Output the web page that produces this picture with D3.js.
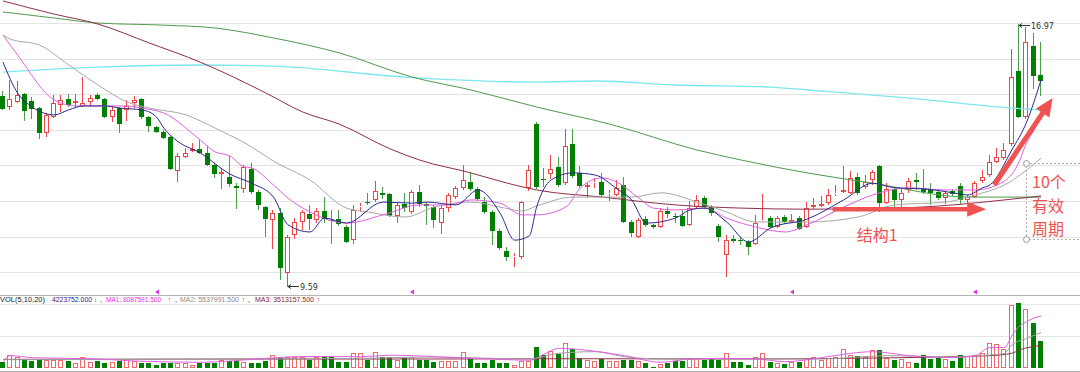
<!DOCTYPE html>
<html>
<head>
<meta charset="utf-8">
<script src="https://cdn.jsdelivr.net/npm/d3@7"></script>
<style>
  body { margin: 0; background: #fff; }
  svg { display: block; }
</style>
</head>
<body>
<svg id="chart" width="1080" height="372"></svg>
<script>
// daily OHLC (index = trading day)
const open = [14.95,14.64,14.78,15.01,14.81,14.61,13.91,14.36,14.70,14.87,14.75,14.67,14.78,14.98,14.87,14.36,14.61,14.56,14.75,14.87,
  14.36,14.08,13.94,13.80,12.84,13.24,13.40,13.46,13.35,13.01,12.76,12.67,12.42,12.34,12.90,12.25,11.83,11.47,11.66,9.98,
  11.05,11.41,11.63,11.47,11.72,11.48,11.49,11.27,10.90,11.83,11.97,12.03,12.23,12.20,11.58,11.92,11.69,12.25,11.92,11.83,
  11.38,11.80,12.11,12.37,12.53,12.34,11.97,11.69,11.16,10.60,10.42,10.43,12.37,14.16,12.63,12.76,12.96,12.50,13.60,12.79,
  12.40,12.50,12.53,12.20,12.17,12.45,11.41,10.99,11.49,11.33,11.27,11.72,11.59,11.58,11.33,11.83,12.08,11.83,11.30,10.48,
  10.93,10.91,10.85,10.79,11.44,11.52,11.27,11.55,11.41,11.52,11.27,11.83,11.86,11.94,12.20,12.25,12.23,12.67,12.40,12.59,
  12.98,11.94,12.34,12.03,12.31,12.59,12.37,12.31,12.25,12.08,12.28,12.42,12.03,12.11,12.56,12.73,13.10,13.21,13.60,15.65,
  14.36,16.35,15.54];
const high = [15.09,15.40,15.37,15.03,14.92,14.64,14.47,14.98,14.98,15.01,15.01,15.48,14.98,15.03,14.89,14.67,14.64,14.84,14.95,14.89,
  14.39,14.11,13.99,13.83,13.35,13.49,13.63,13.71,13.55,13.07,12.93,13.27,12.50,13.01,13.07,12.31,11.86,11.75,11.80,11.05,
  11.52,11.75,11.89,11.80,12.11,11.75,11.75,11.33,11.89,11.94,12.23,12.56,12.40,12.23,11.97,12.23,12.31,12.45,11.97,11.89,
  11.86,12.23,12.42,13.01,12.81,12.40,12.11,11.75,11.21,10.71,10.54,12.00,13.01,14.22,12.93,13.29,13.24,14.02,14.02,12.98,
  12.53,12.65,12.79,12.31,12.59,12.67,11.47,11.52,11.58,11.35,11.80,11.83,11.66,11.75,12.00,12.17,12.14,11.89,11.35,11.05,
  11.05,10.99,10.90,11.61,12.20,11.58,11.58,11.61,11.63,11.58,11.97,12.08,12.14,12.34,12.45,12.98,12.84,12.79,12.73,12.87,
  13.01,12.50,12.40,12.34,12.65,12.79,12.90,12.50,12.31,12.28,12.34,12.50,12.17,12.56,12.87,13.29,13.49,13.63,16.27,16.97,
  16.89,16.72,16.47];
const low = [14.56,14.56,14.75,14.25,14.30,13.74,13.80,14.33,14.50,14.64,14.64,14.64,14.64,14.84,14.33,14.22,13.91,14.25,14.61,14.30,
  13.94,13.91,13.74,12.87,12.53,13.21,13.37,13.32,12.98,12.65,12.34,12.40,11.77,12.23,12.20,11.75,10.99,10.65,9.78,9.59,
  10.93,11.19,11.19,11.38,11.38,10.79,11.30,10.82,10.79,11.69,11.89,11.97,12.06,11.55,11.38,11.69,11.63,11.83,11.33,11.24,
  11.07,11.69,12.06,12.31,12.28,12.00,11.63,10.76,10.62,10.31,10.15,10.37,12.28,12.34,12.40,12.62,12.40,12.45,12.65,12.37,
  12.08,12.37,12.11,12.00,12.14,11.38,10.99,10.96,11.27,11.21,11.24,11.52,11.38,11.27,11.30,11.77,11.77,11.58,10.85,9.87,
  10.82,10.76,10.48,10.76,11.41,11.24,11.24,11.35,11.38,11.19,11.24,11.77,11.83,11.89,12.14,12.23,12.20,12.17,12.34,12.45,
  11.69,11.92,11.83,11.83,12.23,12.31,12.20,11.89,12.03,11.92,12.14,11.92,11.94,12.08,12.50,12.67,13.07,13.15,13.55,14.33,
  14.30,15.15,14.95];
const close = [14.58,14.87,14.98,14.53,14.58,13.91,14.42,14.75,14.84,14.70,14.81,14.75,14.89,14.87,14.36,14.56,14.16,14.67,14.84,14.36,
  14.11,13.94,13.77,12.90,13.27,13.35,13.46,13.35,13.01,12.76,12.81,12.48,12.37,12.96,12.25,11.89,11.49,11.66,10.12,10.99,
  11.41,11.69,11.49,11.72,11.49,11.46,11.35,10.85,11.75,11.86,11.94,12.28,12.17,11.58,11.89,11.80,12.25,11.92,11.86,11.47,
  11.80,12.17,12.37,12.59,12.34,12.06,11.69,11.16,10.68,10.43,10.45,11.97,12.87,12.40,12.61,12.90,12.45,13.55,12.70,12.42,
  12.45,12.53,12.17,12.23,12.37,11.41,11.10,11.47,11.33,11.27,11.72,11.63,11.57,11.30,11.80,12.03,11.83,11.66,10.99,10.90,
  10.88,10.89,10.71,11.38,11.47,11.27,11.52,11.41,11.47,11.21,11.80,11.89,11.92,12.17,12.23,12.31,12.65,12.23,12.53,12.81,
  11.94,12.34,12.03,12.23,12.56,12.53,12.25,12.23,12.08,12.23,12.20,12.03,12.11,12.50,12.67,13.10,13.24,13.43,15.48,14.36,
  16.47,15.51,15.37];
// volume, millions of shares
const volume = [0.94,2.03,1.77,1.46,1.09,1.35,1.25,1.25,1.25,1.15,0.73,1.77,0.94,1.15,0.73,0.94,1.15,1.35,1.09,0.83,
  0.73,0.52,0.83,0.73,0.83,0.73,0.52,0.73,0.73,0.83,1.25,1.15,1.04,0.94,0.83,0.83,1.15,1.98,1.77,1.77,
  1.67,1.67,1.25,1.67,1.77,1.67,0.94,0.94,2.40,2.40,1.25,2.55,1.77,1.77,1.25,1.61,1.77,1.25,1.25,0.94,
  1.04,1.04,1.04,2.50,1.35,0.73,0.73,1.25,0.83,0.73,0.42,1.04,1.04,3.33,2.08,2.60,2.19,3.96,2.92,1.56,
  1.25,1.04,1.35,1.04,1.04,1.25,1.25,1.04,0.73,0.21,0.63,0.73,1.04,1.15,1.35,1.56,1.25,1.46,1.25,2.29,
  0.94,0.94,0.42,1.77,2.40,0.94,0.73,0.63,0.94,0.94,1.56,1.77,1.25,1.61,1.77,2.92,2.08,1.88,1.77,2.76,
  2.81,1.56,1.25,1.35,0.94,0.73,1.98,1.46,1.61,1.46,1.09,1.98,1.88,1.98,2.40,3.96,3.70,2.92,9.80,10.10,
  9.20,7.10,4.22];

// moving averages, [day, price]
const ma5 = [[0,15.90],[2,15.03],[4,14.64],[7,14.42],[9,14.56],[11,14.67],[14,14.67],[16,14.61],[19,14.56],[21,14.36],
  [22,14.05],[24,13.66],[27,13.35],[31,12.76],[34,12.50],[37,12.11],[39,11.33],[42,11.13],[44,11.52],[47,11.38],
  [52,11.97],[56,11.94],[58,11.97],[62,11.89],[65,12.31],[68,11.66],[70,10.90],[72,11.02],[73,11.83],[75,12.59],
  [78,12.79],[81,12.73],[84,12.34],[86,12.03],[88,11.38],[92,11.52],[94,11.75],[96,11.80],[99,11.41],[102,10.85],
  [105,11.24],[110,11.49],[115,12.03],[119,12.50],[122,12.37],[126,12.34],[130,12.23],[132,12.17],[134,12.37],
  [135,12.45],[138,13.43],[140,14.20],[142,15.40]];
const ma10 = [[0,16.66],[2,16.10],[7,14.84],[10,14.67],[13,14.67],[17,14.67],[19,14.61],[22,14.47],[27,13.71],[29,13.38],
  [31,13.27],[33,12.96],[34,12.93],[37,12.45],[39,12.08],[42,11.69],[47,11.38],[52,11.61],[57,11.89],[61,11.89],
  [64,12.03],[68,11.94],[71,11.61],[73,11.61],[77,11.83],[79,12.37],[82,12.65],[84,12.53],[87,12.08],[89,11.80],
  [92,11.75],[96,11.80],[99,11.52],[103,11.27],[107,11.13],[110,11.33],[115,11.83],[119,12.17],[124,12.37],
  [129,12.31],[133,12.31],[137,12.56],[139,13.10],[140,13.62],[141,13.98],[142,14.32]];
const ma20 = [[0,16.66],[1,16.55],[5,16.38],[9,15.82],[13,15.26],[17,14.78],[20,14.61],[25,14.42],[29,14.05],[34,13.52],
  [37,13.12],[42,12.59],[47,11.80],[50,11.69],[55,11.55],[59,11.83],[64,11.97],[68,11.83],[71,11.72],[73,11.86],
  [78,12.11],[83,12.11],[86,12.11],[90,12.23],[95,11.97],[99,11.69],[103,11.41],[110,11.41],[117,11.55],[122,11.89],
  [129,11.97],[133,12.17],[137,12.45],[142,13.20]];
const ma60 = [[0,17.62],[7,17.25],[13,16.97],[20,16.44],[27,15.90],[36,15.03],[41,14.50],[46,14.16],[53,13.46],[57,13.15],
  [64,12.79],[69,12.50],[73,12.31],[82,12.11],[92,11.89],[101,11.80],[110,11.77],[122,11.80],[130,11.89],[137,12.03],[142,12.14]];
const ma120 = [[0,17.31],[7,17.14],[13,17.00],[22,16.94],[29,16.86],[37,16.58],[46,16.16],[56,15.48],[64,15.12],[73,14.64],
  [83,14.16],[95,13.43],[101,13.15],[110,12.79],[119,12.50],[132,12.11],[142,12.11]];
const ma250 = [[0,15.62],[13,15.76],[27,15.82],[37,15.79],[55,15.48],[73,15.34],[81,15.37],[92,15.26],[105,15.20],[110,15.12],
  [124,14.89],[138,14.61],[142,14.56]];

// volume moving averages (millions)
const vma5 = [[0,0.98],[1,1.93],[4,1.62],[13,1.41],[18,1.09],[27,0.89],[36,1.50],[41,1.80],[49,1.77],[53,2.00],[62,1.62],
  [67,1.41],[72,1.20],[74,2.14],[76,3.07],[78,2.97],[85,1.93],[90,0.89],[94,1.41],[98,1.50],[103,1.41],[107,0.99],
  [112,1.62],[116,2.30],[119,2.55],[124,1.93],[130,1.62],[133,1.93],[135,3.18],[137,3.20],[138,5.00],[139,6.50],
  [140,7.20],[141,7.80],[142,8.09]];
const vma10 = [[0,1.30],[20,1.35],[49,1.50],[58,1.72],[72,1.41],[76,2.30],[81,2.55],[85,1.77],[90,1.41],[98,1.41],
  [112,1.41],[121,1.93],[130,1.72],[135,2.03],[137,2.30],[138,3.60],[140,4.60],[142,5.54]];
const vma20 = [[0,1.35],[30,1.40],[60,1.41],[80,1.45],[100,1.41],[115,1.50],[130,1.77],[135,1.93],[138,2.30],[139,2.80],[142,3.51]];

const priceTicks = [10, 11, 12, 13, 14, 15, 16, 17];
const volTicks = [5, 10];
const markerDays = [21, 56, 108, 133];
const volHeader = [
  { text: 'VOL(5,10,20)', x: 0, len: 45, color: '#222' },
  { text: '4223752.000', x: 52, len: 40, color: '#1c1c8c' },
  { text: '↓', x: 94, len: 3, color: '#008000' },
  { text: ',', x: 100, len: 2, color: '#222' },
  { text: 'MA1: 8087591.500', x: 106, len: 55, color: '#e030e0' },
  { text: '↑', x: 168, len: 3, color: '#e00000' },
  { text: ',', x: 175, len: 2, color: '#222' },
  { text: 'MA2: 5537991.500', x: 180, len: 59, color: '#8c8c8c' },
  { text: '↑', x: 242, len: 3, color: '#e00000' },
  { text: ',', x: 248, len: 2, color: '#222' },
  { text: 'MA3: 3513157.500', x: 255, len: 59, color: '#8b1c2c' },
  { text: '↑', x: 317, len: 3, color: '#e00000' }
];

const svg = d3.select('#chart');
const RED = '#ee4646', GREEN = '#008000', GREEN_WICK = '#4a9e4a';

const x = d3.scaleLinear().domain([0, 142]).range([3, 1041]);
const y = d3.scaleLinear().domain([10, 17]).range([272.2, 23]);
const yv = d3.scaleLinear().domain([0, 10]).range([368, 304]);

const px = v => Math.round(v);

// grid
svg.append('g').selectAll('line').data(priceTicks).enter().append('line')
  .attr('x1', 0).attr('x2', 1080)
  .attr('y1', d => px(y(d)) + 0.5).attr('y2', d => px(y(d)) + 0.5)
  .style('stroke', '#e3e3e3').style('stroke-width', 1);
svg.append('g').selectAll('line').data(volTicks).enter().append('line')
  .attr('x1', 0).attr('x2', 1080)
  .attr('y1', d => px(yv(d)) + 0.5).attr('y2', d => px(yv(d)) + 0.5)
  .style('stroke', '#e6e6e6').style('stroke-width', 1);
svg.append('line').attr('x1', 0).attr('x2', 1080).attr('y1', 295.5).attr('y2', 295.5)
  .style('stroke', '#b4b4b4');
svg.append('line').attr('x1', 0).attr('x2', 1080).attr('y1', 371.5).attr('y2', 371.5)
  .style('stroke', '#b4b4b4');

const days = d3.range(open.length).map(i => ({
  i, o: open[i], h: high[i], l: low[i], c: close[i], v: volume[i], up: close[i] >= open[i]
}));

// candles
const cg = svg.append('g');
days.forEach(d => {
  const cx = px(x(d.i));
  const wx = cx - 0.5;
  const top = px(y(Math.max(d.o, d.c)));
  const bot = Math.max(px(y(Math.min(d.o, d.c))), top + 1);
  const hy = px(y(d.h)), ly = px(y(d.l));
  if (d.up) {
    cg.append('line').attr('x1', wx).attr('x2', wx).attr('y1', hy).attr('y2', top)
      .style('stroke', RED);
    cg.append('line').attr('x1', wx).attr('x2', wx).attr('y1', bot).attr('y2', ly)
      .style('stroke', RED);
    cg.append('rect').attr('x', cx - 2.5).attr('y', top + 0.5)
      .attr('width', 4).attr('height', Math.max(bot - top - 1, 0))
      .style('fill', '#fff').style('stroke', RED);
  } else {
    cg.append('line').attr('x1', wx).attr('x2', wx).attr('y1', hy).attr('y2', ly)
      .style('stroke', GREEN_WICK);
    cg.append('rect').attr('x', cx - 3).attr('y', top)
      .attr('width', 5).attr('height', Math.max(bot - top, 1))
      .style('fill', GREEN);
  }
});

// volume bars
const vg = svg.append('g');
days.forEach(d => {
  const cx = px(x(d.i));
  const tv = px(yv(d.v)), base = px(yv(0));
  if (d.up) {
    vg.append('rect').attr('x', cx - 2.5).attr('y', tv + 0.5)
      .attr('width', 4).attr('height', base - tv - 1)
      .style('fill', '#fff').style('stroke', '#f06868');
  } else {
    vg.append('rect').attr('x', cx - 3).attr('y', tv)
      .attr('width', 5).attr('height', base - tv)
      .style('fill', GREEN);
  }
});

// moving average lines
const priceLine = d3.line().x(d => x(d[0])).y(d => y(d[1])).curve(d3.curveMonotoneX);
const volLine = d3.line().x(d => x(d[0])).y(d => yv(d[1])).curve(d3.curveMonotoneX);
[
  [ma250, '#7ee6ee', 1.4], [ma120, '#4f9a4f', 1], [ma60, '#8e3048', 1],
  [ma20, '#a8a8a8', 1], [ma10, '#e060e0', 1], [ma5, '#2a2a8a', 1]
].forEach(([pts, col, w]) => {
  svg.append('path').attr('d', priceLine(pts))
    .style('fill', 'none').style('stroke', col).style('stroke-width', w);
});
[
  [vma20, '#8e3048'], [vma10, '#a0a0a0'], [vma5, '#e060e0']
].forEach(([pts, col]) => {
  svg.append('path').attr('d', volLine(pts))
    .style('fill', 'none').style('stroke', col).style('stroke-width', 1);
});

// high / low flags
const flag = (i, p, label, dy) => {
  const fx = px(x(i)), fy = px(y(p)) + dy;
  svg.append('line').attr('x1', fx).attr('x2', fx + 11).attr('y1', fy + 0.5).attr('y2', fy + 0.5)
    .style('stroke', '#333');
  svg.append('path').attr('d', `M${fx},${fy + 0.5}l3,-2M${fx},${fy + 0.5}l3,2`)
    .style('stroke', '#333').style('fill', 'none');
  svg.append('text').attr('x', fx + 12).attr('y', fy + 3.5)
    .style('font-family', 'DejaVu Sans, sans-serif').style('font-size', '8px')
    .style('fill', '#333').text(label);
};
flag(139, 16.97, '16.97', 1);
flag(39, 9.59, '9.59', -1);

// small magenta markers between panels
svg.append('g').selectAll('path').data(markerDays).enter().append('path')
  .attr('d', d => `M${px(x(d)) - 2},292l4,-2.5v5z`)
  .style('fill', '#e030e0');

// volume header
const hg = svg.append('g')
  .style('font-family', 'Liberation Sans, Arial, sans-serif').style('font-size', '7.5px');
volHeader.forEach(s => {
  hg.append('text').attr('x', s.x).attr('y', 302)
    .attr('textLength', s.len).attr('lengthAdjust', 'spacingAndGlyphs')
    .style('fill', s.color).text(s.text);
});

// annotations
const ANN = '#f05252';
const ag = svg.append('g');
// horizontal arrow (structure 1)
const hx1 = x(113.5), hx2 = x(134.5), hy = y(11.77);
ag.append('line').attr('x1', hx1).attr('x2', hx2 - 16).attr('y1', hy).attr('y2', hy)
  .style('stroke', ANN).style('stroke-width', 4.5);
ag.append('path').attr('d', `M${hx2},${hy}L${hx2 - 19},${hy - 7.5}L${hx2 - 19},${hy + 7.5}Z`)
  .style('fill', ANN);
ag.append('text').attr('x', x(116.8)).attr('y', 241)
  .style('font-family', 'Noto Sans CJK SC, sans-serif').style('font-size', '16px')
  .style('fill', ANN).text('结构1');
// diagonal arrow
const ax1 = x(135.6), ay1 = y(12.45), ax2 = x(143.6), ay2 = y(14.89);
const len = Math.hypot(ax2 - ax1, ay2 - ay1);
const ux = (ax2 - ax1) / len, uy = (ay2 - ay1) / len;
const bx = ax2 - ux * 18, by = ay2 - uy * 18;
ag.append('line').attr('x1', ax1).attr('y1', ay1).attr('x2', bx + ux * 2).attr('y2', by + uy * 2)
  .style('stroke', ANN).style('stroke-width', 5);
ag.append('path')
  .attr('d', `M${ax2},${ay2}L${bx - uy * 8},${by + ux * 8}L${bx + uy * 8},${by - ux * 8}Z`)
  .style('fill', ANN);
// dashed box with handles
const bxl = px(x(139.9)) + 0.5, byt = px(y(13.07)) + 0.5, byb = px(y(10.93)) + 0.5;
ag.append('path').attr('d', `M1080,${byt}H${bxl}V${byb}H1080`)
  .style('fill', 'none').style('stroke', '#b0b0b0').style('stroke-dasharray', '2,2');
[byt, byb].forEach(cy => {
  ag.append('circle').attr('cx', bxl).attr('cy', cy).attr('r', 3)
    .style('fill', '#fff').style('stroke', '#999');
});
['10个', '有效', '周期'].forEach((t, k) => {
  ag.append('text').attr('x', 1032).attr('y', 188 + k * 23.5)
    .style('font-family', 'Noto Sans CJK SC, sans-serif').style('font-size', '16px')
    .style('fill', ANN).text(t);
});
</script>
</body>
</html>
